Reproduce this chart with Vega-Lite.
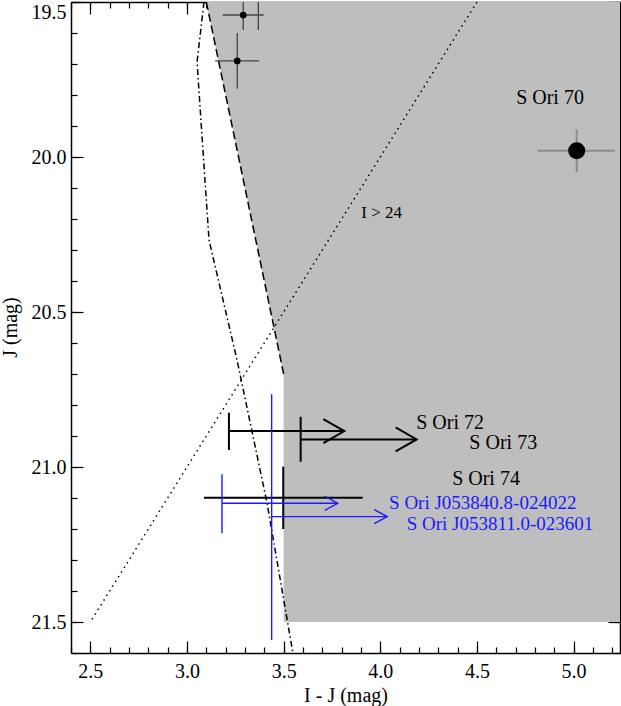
{
  "$schema": "https://vega.github.io/schema/vega-lite/v6.json",
  "width": 549,
  "height": 651,
  "autosize": {"type": "none"},
  "padding": {"left": 71, "top": 2, "right": 1, "bottom": 53},
  "background": "white",
  "config": {
    "view": {"stroke": null},
    "axis": {
      "labelFont": "Liberation Serif", "labelFontSize": 20, "labelColor": "#000000",
      "titleFont": "Liberation Serif", "titleFontSize": 20, "titleFontWeight": "normal", "titleColor": "#000000",
      "grid": false, "domainColor": "#000000", "domainWidth": 1.5, "tickColor": "#000000", "tickWidth": 1.2,
      "labelOverlap": false
    }
  },
  "datasets": {
    "shade": [
      {"J": 19.5, "xl": 3.10, "xr": 5.3},
      {"J": 20.70, "xl": 3.5, "xr": 5.3},
      {"J": 21.5, "xl": 3.5, "xr": 5.3}
    ],
    "dashed": [
      {"x": 3.10, "J": 19.5},
      {"x": 3.5, "J": 20.70}
    ],
    "dashdot": [
      {"x": 3.088, "J": 19.5},
      {"x": 3.052, "J": 19.694},
      {"x": 3.114, "J": 20.268},
      {"x": 3.259, "J": 20.655},
      {"x": 3.414, "J": 21.116},
      {"x": 3.548, "J": 21.6}
    ],
    "dotted": [
      {"x": 4.5, "J": 19.5},
      {"x": 2.5, "J": 21.5}
    ],
    "small": [
      {"x": 3.291, "J": 19.542, "xlo": 3.185, "xhi": 3.397, "ylo": 19.494, "yhi": 19.590},
      {"x": 3.260, "J": 19.690, "xlo": 3.146, "xhi": 3.374, "ylo": 19.600, "yhi": 19.780},
      {"x": 3.369, "J": 19.45, "xlo": 3.27, "xhi": 3.47, "ylo": 19.31, "yhi": 19.59}
    ],
    "big": [
      {"x": 5.016, "J": 19.98, "xlo": 4.814, "xhi": 5.214, "ylo": 19.911, "yhi": 20.049}
    ],
    "limBlack": [
      {"name": "S Ori 72", "x": 3.217, "J": 20.884, "ylo": 20.825, "yhi": 20.945, "xend": 3.814},
      {"name": "S Ori 73", "x": 3.588, "J": 20.911, "ylo": 20.838, "yhi": 20.983, "xend": 4.188}
    ],
    "limBlue": [
      {"name": "S Ori J053840.8-024022", "x": 3.181, "J": 21.117, "ylo": 21.023, "yhi": 21.214, "xend": 3.78},
      {"name": "S Ori J053811.0-023601", "x": 3.438, "J": 21.160, "ylo": 20.765, "yhi": 21.558, "xend": 4.036}
    ],
    "cross": [
      {"name": "S Ori 74", "x": 3.498, "J": 21.099, "xlo": 3.088, "xhi": 3.909, "ylo": 20.999, "yhi": 21.2}
    ],
    "labBlack": [
      {"text": "S Ori 70", "x": 4.878, "J": 19.811},
      {"text": "S Ori 72", "x": 4.361, "J": 20.857},
      {"text": "S Ori 73", "x": 4.636, "J": 20.922},
      {"text": "S Ori 74", "x": 4.547, "J": 21.040}
    ],
    "labBlue": [
      {"text": "S Ori J053840.8-024022", "x": 4.530, "J": 21.117},
      {"text": "S Ori J053811.0-023601", "x": 4.619, "J": 21.184}
    ],
    "labSmall": [
      {"text": "I > 24", "x": 4.007, "J": 20.181}
    ]
  },
  "resolve": {"axis": {"x": "independent", "y": "independent"}},
  "layer": [
    {
      "data": {"name": "shade"},
      "mark": {"type": "area", "orient": "horizontal", "color": "#bebebe", "clip": true},
      "encoding": {
        "y": {"field": "J", "type": "quantitative",
              "scale": {"domain": [19.5, 21.6], "reverse": true, "nice": false, "zero": false},
              "axis": {"orient": "left", "values": [19.5, 20, 20.5, 21, 21.5], "format": ".1f", "ticks": false,
                       "labelPadding": 5, "labelFlush": true, "domain": true, "title": "J (mag)",
                       "titleX": -61, "titleY": 325, "titleAngle": -90, "titleBaseline": "middle", "titleAlign": "center"}},
        "x": {"field": "xl", "type": "quantitative",
              "scale": {"domain": [2.4, 5.24], "nice": false, "zero": false},
              "axis": {"orient": "bottom", "values": [2.5, 3, 3.5, 4, 4.5, 5], "format": ".1f", "ticks": false,
                       "labelPadding": 8, "domain": true, "title": "I - J (mag)", "titleY": 48, "titleBaseline": "alphabetic"}},
        "x2": {"field": "xr"}
      }
    },
    {
      "data": {"name": "dashed"},
      "mark": {"type": "line", "color": "#000000", "strokeWidth": 1.5, "strokeDash": [8, 4], "clip": true},
      "encoding": {
        "x": {"field": "x", "type": "quantitative",
              "axis": {"orient": "bottom", "values": [2.5, 3, 3.5, 4, 4.5, 5], "labels": false, "domain": false, "tickSize": -12, "title": null}},
        "y": {"field": "J", "type": "quantitative",
              "axis": {"orient": "left", "values": [19.5, 20, 20.5, 21, 21.5], "labels": false, "domain": false, "tickSize": -12, "title": null}},
        "order": {"field": "J", "type": "quantitative"}
      }
    },
    {
      "data": {"name": "dashdot"},
      "mark": {"type": "line", "color": "#000000", "strokeWidth": 1.5, "strokeDash": [6, 3, 1.5, 3], "clip": true},
      "encoding": {
        "x": {"field": "x", "type": "quantitative",
              "axis": {"orient": "bottom", "values": [2.4, 2.5, 2.6, 2.7, 2.8, 2.9, 3.0, 3.1, 3.2, 3.3, 3.4, 3.5, 3.6, 3.7, 3.8, 3.9, 4.0, 4.1, 4.2, 4.3, 4.4, 4.5, 4.6, 4.7, 4.8, 4.9, 5.0, 5.1, 5.2],
                       "labels": false, "domain": false, "tickSize": -6, "title": null}},
        "y": {"field": "J", "type": "quantitative",
              "axis": {"orient": "left", "values": [19.5, 19.6, 19.7, 19.8, 19.9, 20.0, 20.1, 20.2, 20.3, 20.4, 20.5, 20.6, 20.7, 20.8, 20.9, 21.0, 21.1, 21.2, 21.3, 21.4, 21.5, 21.6],
                       "labels": false, "domain": false, "tickSize": -6, "title": null}},
        "order": {"field": "J", "type": "quantitative"}
      }
    },
    {
      "data": {"name": "dotted"},
      "mark": {"type": "line", "color": "#000000", "strokeWidth": 1.5, "strokeDash": [1.5, 4], "clip": true},
      "encoding": {
        "x": {"field": "x", "type": "quantitative",
              "axis": {"orient": "top", "values": [2.5, 3, 3.5, 4, 4.5, 5], "labels": false, "domain": true, "tickSize": -12, "title": null}},
        "y": {"field": "J", "type": "quantitative",
              "axis": {"orient": "right", "values": [19.5, 20, 20.5, 21, 21.5], "labels": false, "domain": true, "tickSize": -12, "title": null}},
        "order": {"field": "J", "type": "quantitative"}
      }
    },
    {
      "data": {"name": "small"},
      "mark": {"type": "rule", "color": "#444444", "strokeWidth": 1.3, "clip": true},
      "encoding": {
        "x": {"field": "xlo", "type": "quantitative",
              "axis": {"orient": "top", "values": [2.4, 2.5, 2.6, 2.7, 2.8, 2.9, 3.0, 3.1, 3.2, 3.3, 3.4, 3.5, 3.6, 3.7, 3.8, 3.9, 4.0, 4.1, 4.2, 4.3, 4.4, 4.5, 4.6, 4.7, 4.8, 4.9, 5.0, 5.1, 5.2],
                       "labels": false, "domain": false, "tickSize": -6, "title": null}},
        "x2": {"field": "xhi"},
        "y": {"field": "J", "type": "quantitative",
              "axis": {"orient": "right", "values": [19.5, 19.6, 19.7, 19.8, 19.9, 20.0, 20.1, 20.2, 20.3, 20.4, 20.5, 20.6, 20.7, 20.8, 20.9, 21.0, 21.1, 21.2, 21.3, 21.4, 21.5, 21.6],
                       "labels": false, "domain": false, "tickSize": -6, "title": null}}
      }
    },
    {
      "data": {"name": "small"},
      "mark": {"type": "rule", "color": "#444444", "strokeWidth": 1.3, "clip": true},
      "encoding": {
        "x": {"field": "x", "type": "quantitative", "axis": null},
        "y": {"field": "ylo", "type": "quantitative", "axis": null},
        "y2": {"field": "yhi"}
      }
    },
    {
      "data": {"name": "small"},
      "mark": {"type": "circle", "color": "#000000", "size": 45, "opacity": 1, "clip": true},
      "encoding": {
        "x": {"field": "x", "type": "quantitative", "axis": null},
        "y": {"field": "J", "type": "quantitative", "axis": null}
      }
    },
    {
      "data": {"name": "big"},
      "mark": {"type": "rule", "color": "#8c8c8c", "strokeWidth": 2},
      "encoding": {
        "x": {"field": "xlo", "type": "quantitative", "axis": null},
        "x2": {"field": "xhi"},
        "y": {"field": "J", "type": "quantitative", "axis": null}
      }
    },
    {
      "data": {"name": "big"},
      "mark": {"type": "rule", "color": "#8c8c8c", "strokeWidth": 2},
      "encoding": {
        "x": {"field": "x", "type": "quantitative", "axis": null},
        "y": {"field": "ylo", "type": "quantitative", "axis": null},
        "y2": {"field": "yhi"}
      }
    },
    {
      "data": {"name": "big"},
      "mark": {"type": "circle", "color": "#000000", "size": 290, "opacity": 1},
      "encoding": {
        "x": {"field": "x", "type": "quantitative", "axis": null},
        "y": {"field": "J", "type": "quantitative", "axis": null}
      }
    },
    {
      "data": {"name": "limBlack"},
      "mark": {"type": "rule", "color": "#000000", "strokeWidth": 2},
      "encoding": {
        "x": {"field": "x", "type": "quantitative", "axis": null},
        "x2": {"field": "xend"},
        "y": {"field": "J", "type": "quantitative", "axis": null}
      }
    },
    {
      "data": {"name": "limBlack"},
      "mark": {"type": "rule", "color": "#000000", "strokeWidth": 2},
      "encoding": {
        "x": {"field": "x", "type": "quantitative", "axis": null},
        "y": {"field": "ylo", "type": "quantitative", "axis": null},
        "y2": {"field": "yhi"}
      }
    },
    {
      "data": {"name": "limBlack"},
      "mark": {"type": "point", "shape": "M-1,-0.57L0,0L-1,0.57", "size": 1764, "filled": false, "color": "#000000", "strokeWidth": 2, "opacity": 1},
      "encoding": {
        "x": {"field": "xend", "type": "quantitative", "axis": null},
        "y": {"field": "J", "type": "quantitative", "axis": null}
      }
    },
    {
      "data": {"name": "cross"},
      "mark": {"type": "rule", "color": "#000000", "strokeWidth": 2},
      "encoding": {
        "x": {"field": "xlo", "type": "quantitative", "axis": null},
        "x2": {"field": "xhi"},
        "y": {"field": "J", "type": "quantitative", "axis": null}
      }
    },
    {
      "data": {"name": "cross"},
      "mark": {"type": "rule", "color": "#000000", "strokeWidth": 2},
      "encoding": {
        "x": {"field": "x", "type": "quantitative", "axis": null},
        "y": {"field": "ylo", "type": "quantitative", "axis": null},
        "y2": {"field": "yhi"}
      }
    },
    {
      "data": {"name": "limBlue"},
      "mark": {"type": "rule", "color": "#1a1aff", "strokeWidth": 1.4},
      "encoding": {
        "x": {"field": "x", "type": "quantitative", "axis": null},
        "x2": {"field": "xend"},
        "y": {"field": "J", "type": "quantitative", "axis": null}
      }
    },
    {
      "data": {"name": "limBlue"},
      "mark": {"type": "rule", "color": "#1a1aff", "strokeWidth": 1.4},
      "encoding": {
        "x": {"field": "x", "type": "quantitative", "axis": null},
        "y": {"field": "ylo", "type": "quantitative", "axis": null},
        "y2": {"field": "yhi"}
      }
    },
    {
      "data": {"name": "limBlue"},
      "mark": {"type": "point", "shape": "M-1,-0.54L0,0L-1,0.54", "size": 676, "filled": false, "color": "#1a1aff", "strokeWidth": 1.4, "opacity": 1},
      "encoding": {
        "x": {"field": "xend", "type": "quantitative", "axis": null},
        "y": {"field": "J", "type": "quantitative", "axis": null}
      }
    },
    {
      "data": {"name": "labBlack"},
      "mark": {"type": "text", "font": "Liberation Serif", "fontSize": 20, "color": "#000000", "align": "center", "baseline": "middle"},
      "encoding": {
        "x": {"field": "x", "type": "quantitative", "axis": null},
        "y": {"field": "J", "type": "quantitative", "axis": null},
        "text": {"field": "text"}
      }
    },
    {
      "data": {"name": "labBlue"},
      "mark": {"type": "text", "font": "Liberation Serif", "fontSize": 19, "color": "#1a1aff", "align": "center", "baseline": "middle"},
      "encoding": {
        "x": {"field": "x", "type": "quantitative", "axis": null},
        "y": {"field": "J", "type": "quantitative", "axis": null},
        "text": {"field": "text"}
      }
    },
    {
      "data": {"name": "labSmall"},
      "mark": {"type": "text", "font": "Liberation Serif", "fontSize": 17, "color": "#000000", "align": "center", "baseline": "middle"},
      "encoding": {
        "x": {"field": "x", "type": "quantitative", "axis": null},
        "y": {"field": "J", "type": "quantitative", "axis": null},
        "text": {"field": "text"}
      }
    }
  ]
}
